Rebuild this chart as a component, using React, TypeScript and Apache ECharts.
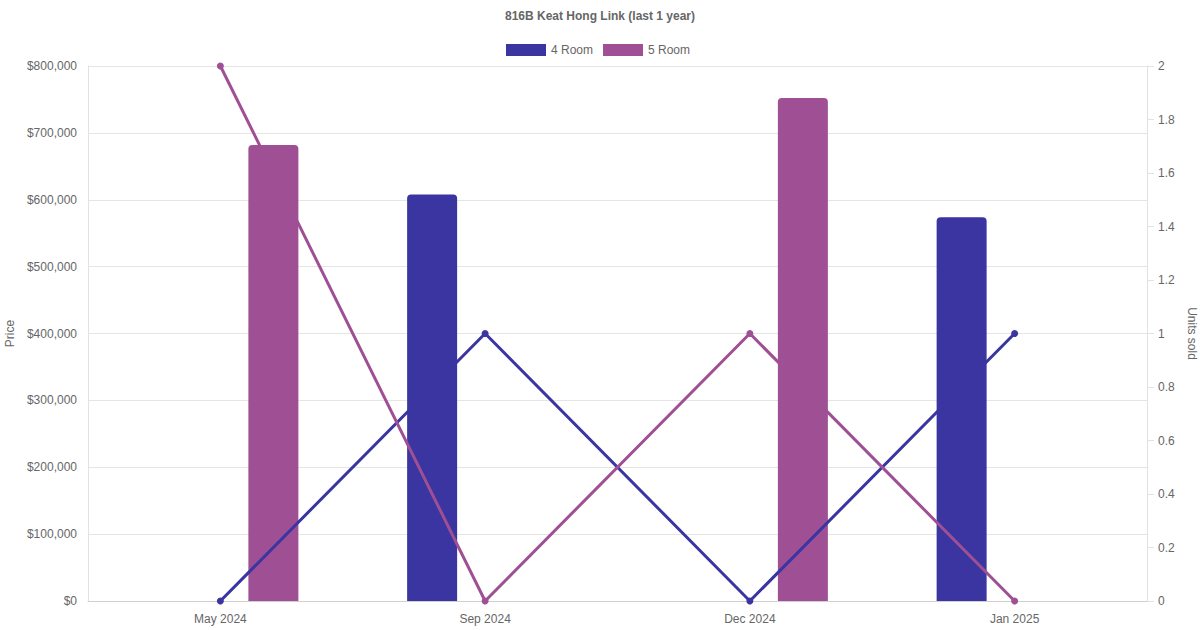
import React, { useEffect, useRef } from "react";
import * as echarts from "echarts";

const categories = ["May 2024", "Sep 2024", "Dec 2024", "Jan 2025"];
const price4Room = [null, 608000, null, 574000];
const price5Room = [682000, null, 752000, null];
const units4Room = [0, 1, 0, 1];
const units5Room = [2, 0, 1, 0];
const seriesNames = ["4 Room", "5 Room"];
const colors = ["#3a35a0", "#9f5094"];

const FONT = "Liberation Sans, Arial, Helvetica, sans-serif";

export default function App() {
  const ref = useRef<HTMLDivElement>(null);
  useEffect(() => {
    if (!ref.current) return;
    const chart = echarts.init(ref.current, undefined, { renderer: "svg" });
    const barStyle = (c: string) => ({ color: c, borderRadius: [4, 4, 0, 0] });
    chart.setOption({
      animation: false,
      textStyle: { fontFamily: FONT },
      title: {
        text: "816B Keat Hong Link (last 1 year)",
        left: "center",
        top: 10,
        padding: 0,
        textStyle: { fontFamily: FONT, fontSize: 12, fontWeight: "bold", color: "#666" },
      },
      legend: {
        top: 44,
        left: 506,
        padding: 0,
        itemWidth: 40,
        itemHeight: 12,
        itemGap: 10,
        icon: "rect",
        data: seriesNames.map((n, i) => ({ name: n, itemStyle: { color: colors[i] } })),
        textStyle: { fontFamily: FONT, fontSize: 12, color: "#666" },
      },
      grid: { left: 88, right: 53, top: 66, bottom: 29, containLabel: false, outerBoundsMode: "none" },
      xAxis: {
        type: "category",
        data: categories,
        boundaryGap: true,
        axisLine: { show: true, lineStyle: { color: "#d0d0d0", width: 1 } },
        axisTick: { show: false },
        axisLabel: { color: "#666", fontSize: 12, fontFamily: FONT, margin: 12 },
        splitLine: { show: false },
      },
      yAxis: [
        {
          type: "value",
          min: 0,
          max: 800000,
          interval: 100000,
          name: "Price",
          nameLocation: "middle",
          nameRotate: 90,
          nameGap: 72,
          nameTextStyle: { color: "#666", fontSize: 12, fontFamily: FONT },
          axisLine: { show: true, lineStyle: { color: "#e2e2e2" } },
          axisTick: { show: false },
          axisLabel: {
            color: "#666",
            fontSize: 12,
            fontFamily: FONT,
            margin: 11,
            formatter: (v: number) => "$" + v.toLocaleString("en-US"),
          },
          splitLine: { show: true, lineStyle: { color: "#e5e5e5" } },
        },
        {
          type: "value",
          min: 0,
          max: 2,
          interval: 0.2,
          position: "right",
          name: "Units sold",
          nameLocation: "middle",
          nameRotate: -90,
          nameGap: 31,
          nameTextStyle: { color: "#666", fontSize: 12, fontFamily: FONT },
          axisLine: { show: true, lineStyle: { color: "#e2e2e2" } },
          axisTick: { show: true, length: 7, lineStyle: { color: "#e2e2e2" } },
          axisLabel: {
            color: "#666",
            fontSize: 12,
            fontFamily: FONT,
            margin: 11,
            formatter: (v: number) => String(Math.round(v * 10) / 10),
          },
          splitLine: { show: false },
        },
      ],
      series: [
        {
          name: seriesNames[0],
          type: "bar",
          data: price4Room,
          barWidth: 50,
          barGap: "112%",
          itemStyle: barStyle(colors[0]),
          z: 2,
        },
        {
          name: seriesNames[1],
          type: "bar",
          data: price5Room,
          barWidth: 50,
          barGap: "112%",
          itemStyle: barStyle(colors[1]),
          z: 2,
        },
        {
          name: seriesNames[0],
          type: "line",
          yAxisIndex: 1,
          data: units4Room,
          symbol: "circle",
          symbolSize: 7,
          lineStyle: { color: colors[0], width: 3 },
          itemStyle: { color: colors[0] },
          z: 5,
        },
        {
          name: seriesNames[1],
          type: "line",
          yAxisIndex: 1,
          data: units5Room,
          symbol: "circle",
          symbolSize: 7,
          lineStyle: { color: colors[1], width: 3 },
          itemStyle: { color: colors[1] },
          z: 5,
        },
      ],
    });
    return () => chart.dispose();
  }, []);
  return (
    <div
      ref={ref}
      style={{ position: "fixed", left: 0, top: 0, width: 1200, height: 630, background: "#fff" }}
    />
  );
}
